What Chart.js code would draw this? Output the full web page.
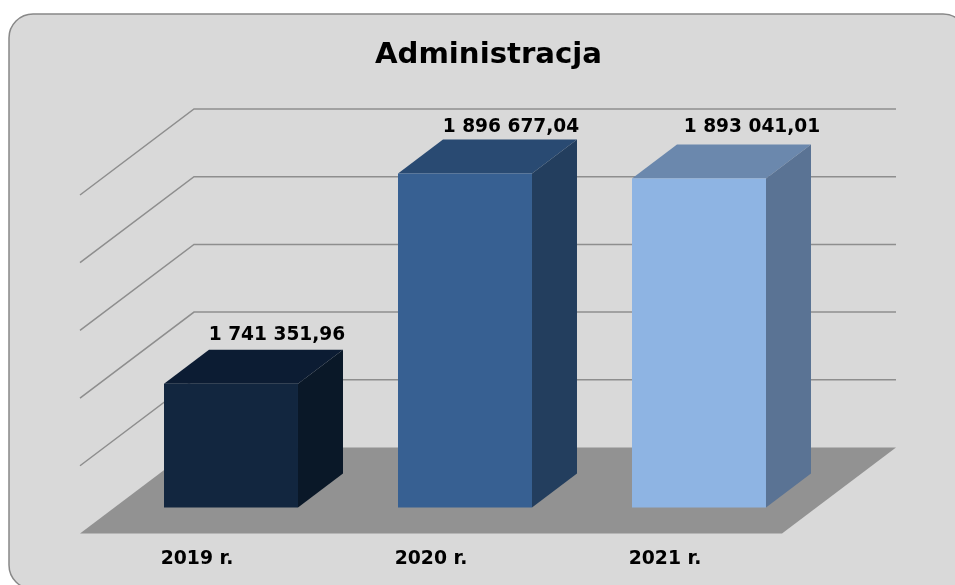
<!DOCTYPE html>
<html>
<head>
<meta charset="utf-8">
<title>Administracja</title>
<script src="https://cdn.jsdelivr.net/npm/chart.js@4"></script>
<style>
  html, body { margin: 0; padding: 0; background: #fff; overflow: hidden; }
  canvas { display: block; }
</style>
</head>
<body>
<canvas id="myChart" width="955" height="585"></canvas>
<script>
const chartTitle = "Administracja";
const years = ["2019 r.", "2020 r.", "2021 r."];
const amounts = [1741351.96, 1896677.04, 1893041.01];
const frontColors = ["#12263f", "#376092", "#8eb4e3"];
const topColors = ["#0c1c33", "#294a72", "#6b88ad"];
const sideColors = ["#0a1828", "#233e5e", "#5a7394"];

const font = "'DejaVu Sans', Verdana, sans-serif";

// 3d look: how far the bars and the floor run back from the bar plane
const barDepth = { x: 45, y: 34 };
const floorFront = { x: -34, y: 26 };
const floorBack = { x: 80, y: -60 };
// value labels were moved by hand in the original
const labelLift = [14.5, 12, 17];
const labelShift = [1, 1, 8];

function formatAmount(v) {
  const parts = v.toFixed(2).split(".");
  return parts[0].replace(/\B(?=(\d{3})+$)/g, " ") + "," + parts[1];
}

function fillShape(ctx, color, pts) {
  ctx.fillStyle = color;
  ctx.beginPath();
  pts.forEach((p, i) => (i ? ctx.lineTo(p[0], p[1]) : ctx.moveTo(p[0], p[1])));
  ctx.closePath();
  ctx.fill();
}

const panel = {
  id: "panel",
  beforeDraw(chart) {
    const ctx = chart.ctx;
    ctx.save();
    ctx.beginPath();
    ctx.roundRect(9, 14, 958, 575, 24);
    ctx.fillStyle = "#d9d9d9";
    ctx.fill();
    ctx.lineWidth = 1.5;
    ctx.strokeStyle = "#888888";
    ctx.stroke();
    ctx.restore();
  },
};

const walls = {
  id: "walls",
  beforeDatasetsDraw(chart) {
    const ctx = chart.ctx;
    const area = chart.chartArea;
    const y = chart.scales.y;
    ctx.save();

    // floor is the lowest tick, the others are wall lines
    const y0 = y.getPixelForValue(y.min);
    fillShape(ctx, "#929292", [
      [area.left + floorFront.x, y0 + floorFront.y],
      [area.right + floorFront.x, y0 + floorFront.y],
      [area.right + floorBack.x, y0 + floorBack.y],
      [area.left + floorBack.x, y0 + floorBack.y],
    ]);

    ctx.strokeStyle = "#8e8e8e";
    ctx.lineWidth = 1.5;
    y.ticks.forEach((t) => {
      if (t.value === y.min) return;
      const py = y.getPixelForValue(t.value);
      ctx.beginPath();
      ctx.moveTo(area.left + floorFront.x, py + floorFront.y);
      ctx.lineTo(area.left + floorBack.x, py + floorBack.y);
      ctx.lineTo(area.right + floorBack.x, py + floorBack.y);
      ctx.stroke();
    });

    // top and side faces, the front face is the normal bar
    chart.getDatasetMeta(0).data.forEach((bar, i) => {
      const l = bar.x - bar.width / 2;
      const r = bar.x + bar.width / 2;
      fillShape(ctx, topColors[i], [
        [l, bar.y],
        [r, bar.y],
        [r + barDepth.x, bar.y - barDepth.y],
        [l + barDepth.x, bar.y - barDepth.y],
      ]);
      fillShape(ctx, sideColors[i], [
        [r, bar.y],
        [r + barDepth.x, bar.y - barDepth.y],
        [r + barDepth.x, y0 - barDepth.y],
        [r, y0],
      ]);
    });
    ctx.restore();
  },
  afterDatasetsDraw(chart) {
    const ctx = chart.ctx;
    ctx.save();
    ctx.fillStyle = "#000";
    ctx.textAlign = "center";

    ctx.font = "bold 29.2px " + font;
    ctx.textBaseline = "alphabetic";
    ctx.fillText(chartTitle, 488.5, 63);

    ctx.font = "bold 18.6px " + font;
    ctx.textBaseline = "middle";
    chart.getDatasetMeta(0).data.forEach((bar, i) => {
      ctx.fillText(
        formatAmount(amounts[i]),
        bar.x + barDepth.x + labelShift[i],
        bar.y - barDepth.y - labelLift[i]
      );
    });
    ctx.restore();
  },
};

const myChart = new Chart(document.getElementById("myChart"), {
  type: "bar",
  data: {
    labels: years,
    datasets: [
      {
        label: chartTitle,
        data: amounts,
        backgroundColor: frontColors,
        barPercentage: 0.5726,
        categoryPercentage: 1,
      },
    ],
  },
  options: {
    responsive: false,
    animation: false,
    layout: {
      padding: { left: 114, right: 139, top: 169, bottom: -25 },
    },
    plugins: {
      legend: { display: false },
      tooltip: { enabled: false },
      title: { display: false },
    },
    scales: {
      x: {
        grid: { display: false, drawTicks: false },
        border: { display: false },
        ticks: {
          color: "#000",
          font: { family: font, size: 18.8, weight: "bold" },
          padding: 40,
          labelOffset: -34,
          maxRotation: 0,
        },
      },
      y: {
        display: false,
        min: 1650000,
        max: 1900000,
        ticks: { stepSize: 50000 },
      },
    },
  },
  plugins: [panel, walls],
});
</script>
</body>
</html>
